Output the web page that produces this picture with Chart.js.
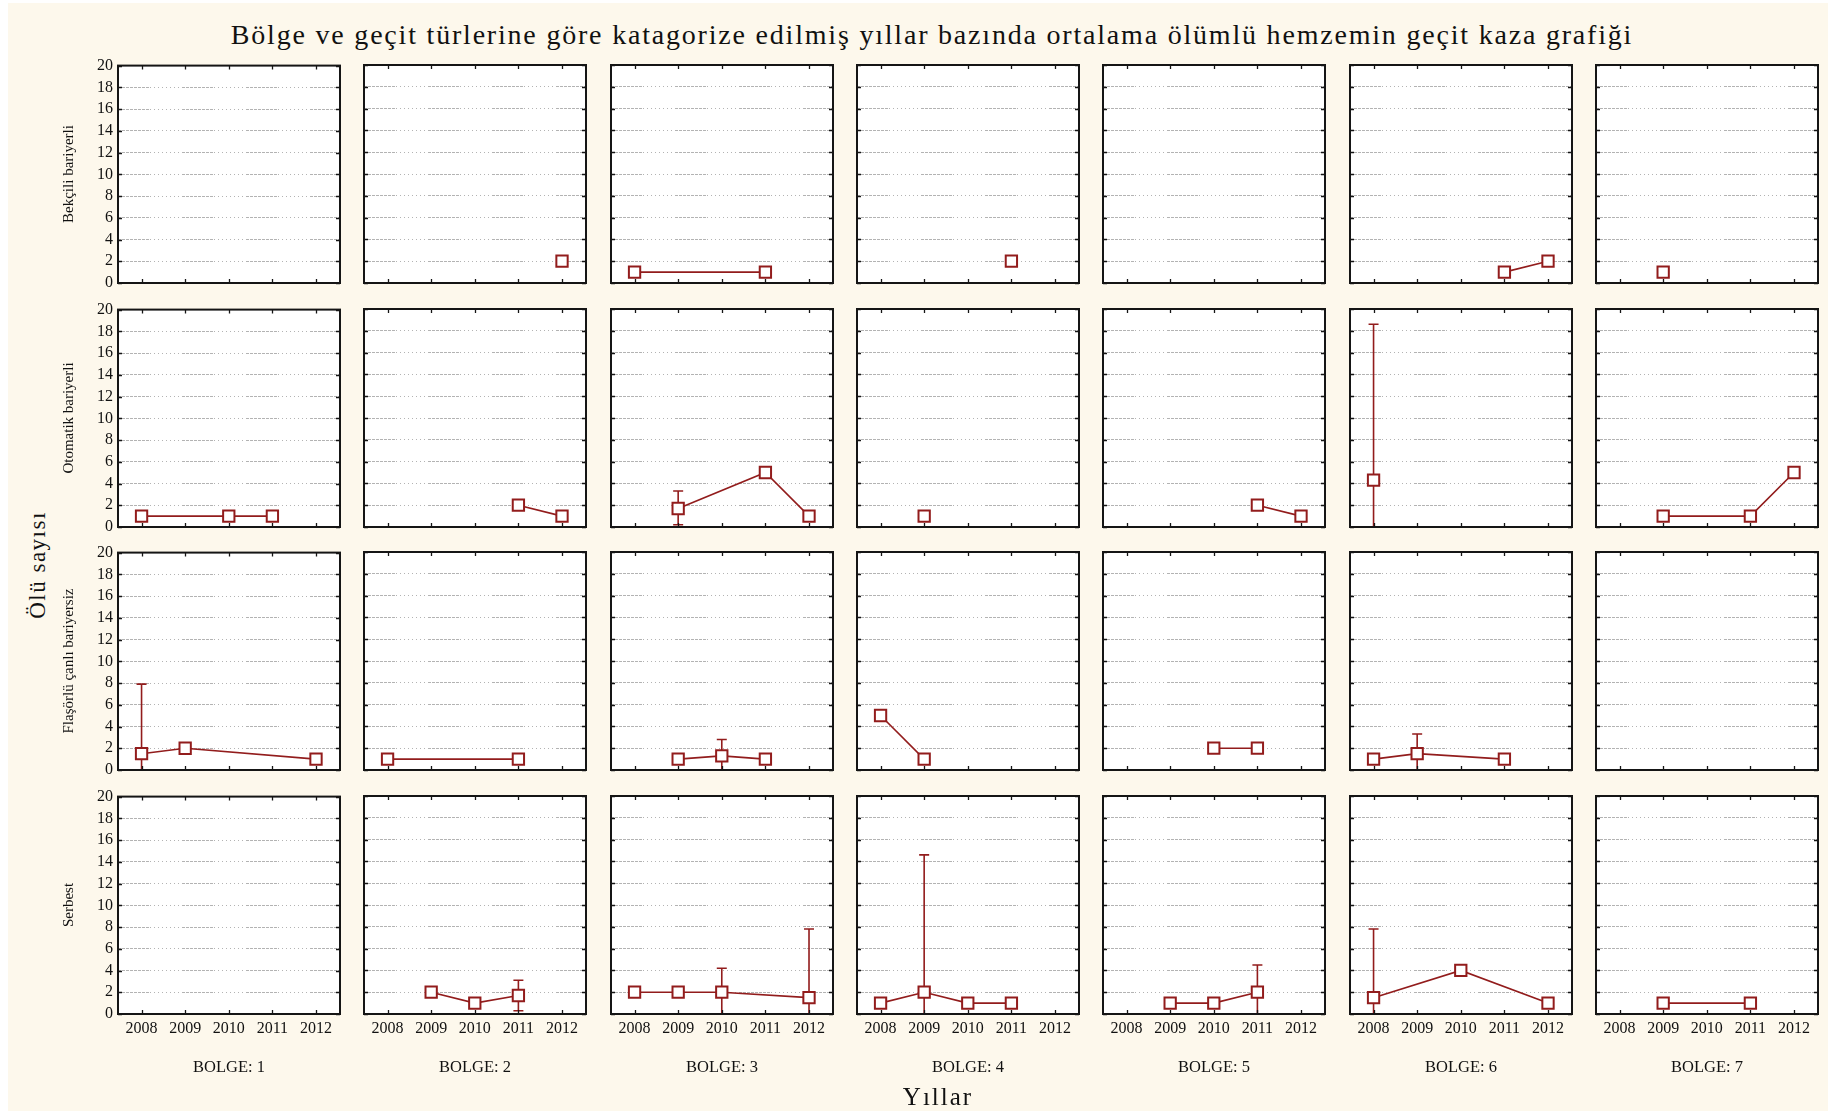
<!DOCTYPE html>
<html><head><meta charset="utf-8">
<script src="https://cdn.jsdelivr.net/npm/chart.js@4.4.1/dist/chart.umd.min.js"></script>
<style>
html,body{margin:0;padding:0;background:#ffffff;width:1834px;height:1115px;overflow:hidden;}
#bg{position:absolute;left:8px;top:3px;width:1820px;height:1108px;background:#fdf8ec;}
canvas.panel{position:absolute;}
.txt{position:absolute;font-family:'Liberation Serif','Times New Roman',serif;color:#111;white-space:nowrap;transform:translate(-50%,-50%);}
.rot{transform:translate(-50%,-50%) rotate(-90deg);}
</style></head><body>
<div id="bg"></div>
<div id="root"></div>
<script>
// ---------- DATA ----------
const years = [2008, 2009, 2010, 2011, 2012];
const regions = ['BOLGE: 1', 'BOLGE: 2', 'BOLGE: 3', 'BOLGE: 4', 'BOLGE: 5', 'BOLGE: 6', 'BOLGE: 7'];
const crossingTypes = ['Bekçili bariyerli', 'Otomatik bariyerli', 'Flaşörlü çanlı bariyersiz', 'Serbest'];
const yTicks = [0, 2, 4, 6, 8, 10, 12, 14, 16, 18, 20];
const chartTitle = 'Bölge ve geçit türlerine göre katagorize edilmiş yıllar bazında ortalama ölümlü hemzemin geçit kaza grafiği';
const yAxisTitle = 'Ölü sayısı';
const xAxisTitle = 'Yıllar';

// means: one row per region (BOLGE 1..7), one value per year 2008..2012
const bekciliMeans = [
  [null, null, null, null, null],
  [null, null, null, null, 2],
  [1, null, null, 1, null],
  [null, null, null, 2, null],
  [null, null, null, null, null],
  [null, null, null, 1, 2],
  [null, 1, null, null, null]
];
const otomatikMeans = [
  [1, null, 1, 1, null],
  [null, null, null, 2, 1],
  [null, 1.7, null, 5, 1],
  [null, 1, null, null, null],
  [null, null, null, 2, 1],
  [4.3, null, null, null, null],
  [null, 1, null, 1, 5]
];
const flasorluMeans = [
  [1.5, 2, null, null, 1],
  [1, null, null, 1, null],
  [null, 1, 1.3, 1, null],
  [5, 1, null, null, null],
  [null, null, 2, 2, null],
  [1, 1.5, null, 1, null],
  [null, null, null, null, null]
];
const serbestMeans = [
  [null, null, null, null, null],
  [null, 2, 1, 1.7, null],
  [2, 2, 2, null, 1.5],
  [1, 2, 1, 1, null],
  [null, 1, 1, 2, null],
  [1.5, null, 4, null, 1],
  [null, 1, null, 1, null]
];

// error bar limits (null = no bar)
const otomatikLower = [
  [null, null, null, null, null],
  [null, null, null, null, null],
  [null, 0.2, null, null, null],
  [null, null, null, null, null],
  [null, null, null, null, null],
  [-10, null, null, null, null],
  [null, null, null, null, null]
];
const otomatikUpper = [
  [null, null, null, null, null],
  [null, null, null, null, null],
  [null, 3.3, null, null, null],
  [null, null, null, null, null],
  [null, null, null, null, null],
  [18.6, null, null, null, null],
  [null, null, null, null, null]
];
const flasorluLower = [
  [-4.9, null, null, null, null],
  [null, null, null, null, null],
  [null, null, -0.2, null, null],
  [null, null, null, null, null],
  [null, null, null, null, null],
  [null, -0.3, null, null, null],
  [null, null, null, null, null]
];
const flasorluUpper = [
  [7.9, null, null, null, null],
  [null, null, null, null, null],
  [null, null, 2.8, null, null],
  [null, null, null, null, null],
  [null, null, null, null, null],
  [null, 3.3, null, null, null],
  [null, null, null, null, null]
];
const serbestLower = [
  [null, null, null, null, null],
  [null, null, null, 0.3, null],
  [null, null, -0.2, null, -4.8],
  [null, -10.6, null, null, null],
  [null, null, null, -0.5, null],
  [-4.8, null, null, null, null],
  [null, null, null, null, null]
];
const serbestUpper = [
  [null, null, null, null, null],
  [null, null, null, 3.1, null],
  [null, null, 4.2, null, 7.8],
  [null, 14.6, null, null, null],
  [null, null, null, 4.5, null],
  [7.8, null, null, null, null],
  [null, null, null, null, null]
];
const noBars = [
  [null, null, null, null, null], [null, null, null, null, null], [null, null, null, null, null],
  [null, null, null, null, null], [null, null, null, null, null], [null, null, null, null, null],
  [null, null, null, null, null]
];

// ---------- LAYOUT / STYLE ----------
const RED = '#921c1c';
const FONT = "'Liberation Serif','Times New Roman',serif";
const P0X = 118, PITCH_X = 246.3, PW = 222;
const P0Y = 65, PITCH_Y = 243.7, PH = 218;
const padL = 50, padR = 24, padT = 14, padB = 32;

const rowMeans = [bekciliMeans, otomatikMeans, flasorluMeans, serbestMeans];
const rowLower = [noBars, otomatikLower, flasorluLower, serbestLower];
const rowUpper = [noBars, otomatikUpper, flasorluUpper, serbestUpper];

function gridDash() {
  const d = [];
  for (let i = 0; i < 8; i++) d.push(3, 1);
  for (let i = 0; i < 8; i++) d.push(1, 3);
  return d;
}

const panelPlugin = {
  id: 'panelDecor',
  beforeDraw(chart) {
    const { ctx, chartArea: a } = chart;
    ctx.save();
    ctx.fillStyle = '#ffffff';
    ctx.fillRect(a.left, a.top, a.right - a.left, a.bottom - a.top);
    ctx.restore();
  },
  beforeDatasetsDraw(chart, args, opts) {
    const { ctx, chartArea: a, scales: { x, y } } = chart;
    ctx.save();
    ctx.beginPath();
    ctx.rect(a.left, a.top, a.right - a.left, a.bottom - a.top);
    ctx.clip();
    ctx.strokeStyle = RED;
    ctx.lineWidth = 1.6;
    years.forEach((yr, i) => {
      const lo = opts.lower[i], hi = opts.upper[i];
      if (lo == null || hi == null) return;
      const px = x.getPixelForValue(yr);
      const pl = y.getPixelForValue(lo), ph = y.getPixelForValue(hi);
      ctx.beginPath();
      ctx.moveTo(px, pl); ctx.lineTo(px, ph);
      ctx.moveTo(px - 5, ph); ctx.lineTo(px + 5, ph);
      ctx.moveTo(px - 5, pl); ctx.lineTo(px + 5, pl);
      ctx.stroke();
    });
    ctx.restore();
  },
  afterDraw(chart) {
    const { ctx, chartArea: a, scales: { x, y } } = chart;
    ctx.save();
    ctx.strokeStyle = '#151515';
    ctx.lineWidth = 1.3;
    ctx.beginPath();
    years.forEach(yr => {
      const px = Math.round(x.getPixelForValue(yr)) + 0.5;
      ctx.moveTo(px, a.top); ctx.lineTo(px, a.top + 4);
      ctx.moveTo(px, a.bottom); ctx.lineTo(px, a.bottom - 4);
    });
    yTicks.forEach(v => {
      const py = Math.round(y.getPixelForValue(v)) + 0.5;
      ctx.moveTo(a.left, py); ctx.lineTo(a.left + 4, py);
      ctx.moveTo(a.right, py); ctx.lineTo(a.right - 4, py);
    });
    ctx.stroke();
    ctx.lineWidth = 2;
    ctx.strokeRect(a.left, a.top, a.right - a.left, a.bottom - a.top);
    ctx.restore();
  }
};

const root = document.getElementById('root');

function addText(text, cx, cy, size, extra) {
  const d = document.createElement('div');
  d.className = 'txt' + (extra && extra.rot ? ' rot' : '');
  d.textContent = text;
  d.style.left = cx + 'px';
  d.style.top = cy + 'px';
  d.style.fontSize = size + 'px';
  if (extra && extra.ls) d.style.letterSpacing = extra.ls + 'px';
  root.appendChild(d);
}

for (let r = 0; r < 4; r++) {
  for (let c = 0; c < 7; c++) {
    const left = Math.round(P0X + c * PITCH_X);
    const top = Math.round(P0Y + r * PITCH_Y);
    const cv = document.createElement('canvas');
    cv.className = 'panel';
    cv.width = PW + padL + padR;
    cv.height = PH + padT + padB;
    cv.style.left = (left - padL) + 'px';
    cv.style.top = (top - padT) + 'px';
    cv.style.width = cv.width + 'px';
    cv.style.height = cv.height + 'px';
    root.appendChild(cv);

    const vals = rowMeans[r][c];
    const pts = years.map((yr, i) => ({ x: yr, y: vals[i] })).filter(p => p.y != null);

    new Chart(cv, {
      type: 'line',
      data: {
        datasets: [{
          data: pts,
          borderColor: RED,
          borderWidth: 1.6,
          pointStyle: 'rect',
          pointRadius: 8,
          pointBorderWidth: 2,
          pointBorderColor: RED,
          pointBackgroundColor: '#ffffff',
          tension: 0,
          fill: false
        }]
      },
      options: {
        responsive: false,
        animation: false,
        devicePixelRatio: 1,
        events: [],
        layout: { padding: { top: padT, right: padR, left: 0, bottom: 0 } },
        plugins: {
          legend: { display: false },
          tooltip: { enabled: false },
          panelDecor: { lower: rowLower[r][c], upper: rowUpper[r][c] }
        },
        scales: {
          x: {
            type: 'linear',
            min: 2007.46,
            max: 2012.55,
            afterBuildTicks: s => { s.ticks = years.map(v => ({ value: v })); },
            afterFit: s => { s.height = padB; },
            grid: { display: false, drawTicks: false },
            border: { display: false },
            ticks: {
              display: r === 3,
              padding: 5,
              maxRotation: 0,
              autoSkip: false,
              color: '#111',
              font: { family: FONT, size: 16 },
              callback: v => String(v)
            }
          },
          y: {
            type: 'linear',
            min: 0,
            max: 20,
            afterBuildTicks: s => { s.ticks = yTicks.map(v => ({ value: v })); },
            afterFit: s => { s.width = padL; },
            grid: { display: true, drawTicks: false, color: '#b3b3b3', lineWidth: 1 },
            border: { display: false, dash: gridDash() },
            ticks: {
              display: c === 0,
              autoSkip: false,
              padding: 5,
              color: '#111',
              font: { family: FONT, size: 16 },
              callback: v => String(v)
            }
          }
        }
      },
      plugins: [panelPlugin]
    });
  }
}

// ---------- TEXT ----------
addText(chartTitle, 932, 35, 28, { ls: 1.8 });
addText(yAxisTitle, 38, 565, 23, { rot: true, ls: 1.5 });
crossingTypes.forEach((t, r) => addText(t, 68, Math.round(P0Y + r * PITCH_Y) + PH / 2, 15, { rot: true }));
regions.forEach((t, c) => addText(t, Math.round(P0X + c * PITCH_X) + PW / 2, 1067, 16.5));
addText(xAxisTitle, 938, 1097, 25, { ls: 2 });
</script>
</body></html>
